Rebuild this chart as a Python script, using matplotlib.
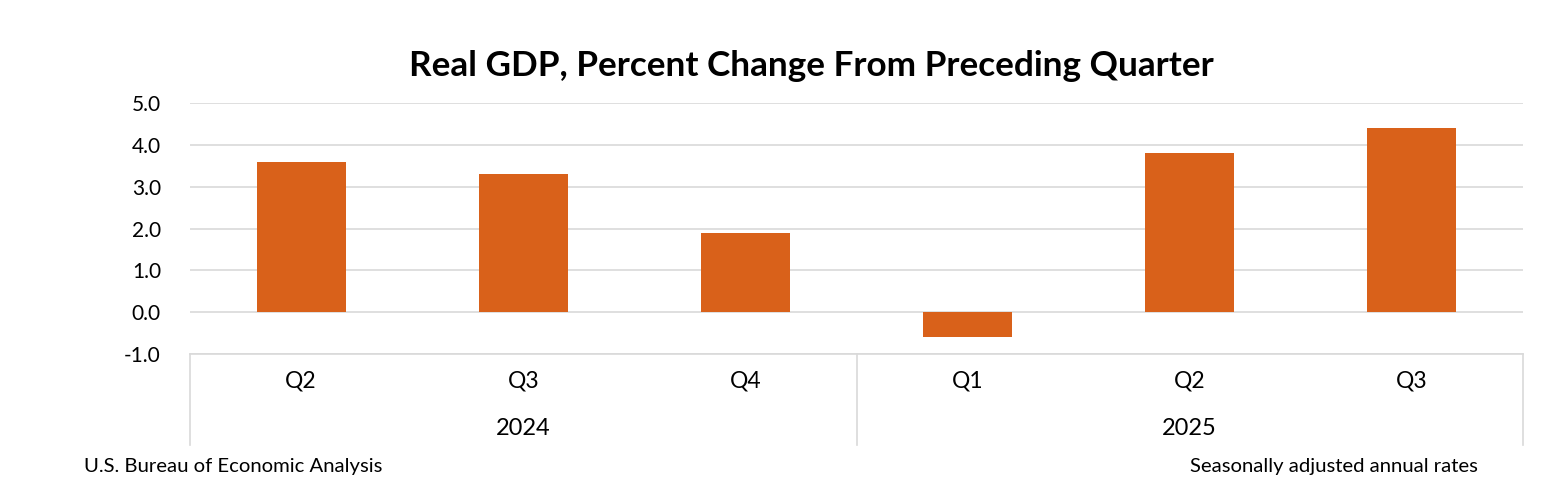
import matplotlib.pyplot as plt
import matplotlib.transforms as mtransforms

quarters = ['Q2', 'Q3', 'Q4', 'Q1', 'Q2', 'Q3']
years = ['2024', '2025']
year_sizes = [3, 3]
values = [3.6, 3.3, 1.9, -0.6, 3.8, 4.4]
yticks = [-1.0, 0.0, 1.0, 2.0, 3.0, 4.0, 5.0]

plt.rcParams['font.family'] = ['Lato', 'DejaVu Sans']

fig = plt.figure(figsize=(15.58, 4.88), dpi=100)
ax = fig.add_axes([0.1220, 0.2746, 0.8555, 0.5143])

x = list(range(len(values)))
ax.bar(x, values, width=0.4, color='#d9611a', zorder=3)

ax.set_xlim(-0.5, len(values) - 0.5)
ax.set_ylim(-1.0, 5.0)
ax.set_yticks(yticks)
ax.set_yticklabels([f'{t:.1f}' for t in yticks], fontsize=15)
ax.tick_params(axis='y', length=0, pad=21)
ax.tick_params(axis='x', length=0, labelbottom=False)
ax.grid(axis='y', color='#d9d9d9', linewidth=1.2, zorder=0)
for s in ax.spines.values():
    s.set_visible(False)

# category axis box
grid_col = '#d9d9d9'
depth = -0.3625
ax.plot([0, 1], [0, 0], transform=ax.transAxes, color=grid_col, lw=1.2, clip_on=False)
for xv in [0, 0.5, 1]:
    ax.plot([xv, xv], [0, depth], transform=ax.transAxes, color=grid_col, lw=1.2, clip_on=False)

trans = mtransforms.blended_transform_factory(ax.transData, ax.transAxes)
for xi, q in zip(x, quarters):
    ax.text(xi, -0.108, q, transform=trans, ha='center', va='center', fontsize=16.5)
start = 0
for yr, n in zip(years, year_sizes):
    ax.text(start + (n - 1) / 2, -0.295, yr, transform=trans, ha='center', va='center', fontsize=17)
    start += n

fig.text(0.5205, 0.865, 'Real GDP, Percent Change From Preceding Quarter', ha='center', va='center',
         fontsize=25.3, fontweight='bold')
fig.text(0.0539, 0.045, 'U.S. Bureau of Economic Analysis', ha='left', va='center', fontsize=14.6)
fig.text(0.9483, 0.045, 'Seasonally adjusted annual rates', ha='right', va='center', fontsize=14.6)

fig.savefig('out.png', dpi=100)
